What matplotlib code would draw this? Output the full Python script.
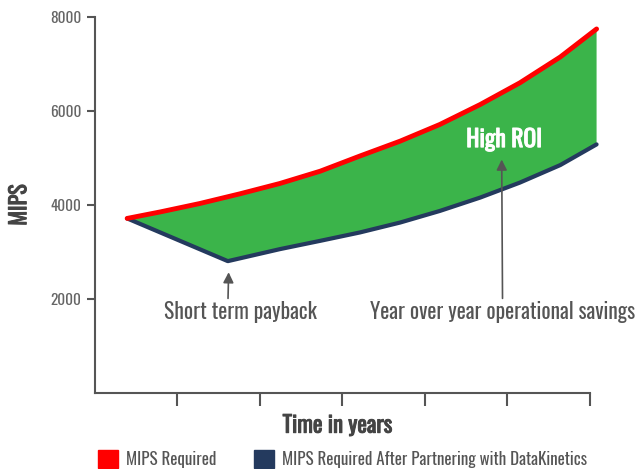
import numpy as np
import matplotlib.pyplot as plt
import matplotlib.patheffects as pe
from matplotlib.patches import Patch

plt.rcParams['font.family'] = ['Oswald', 'Barlow Condensed', 'DejaVu Sans']

# MIPS required
x_req = [0.39, 0.79, 1.27, 1.76, 2.24, 2.73, 3.21, 3.70, 4.18, 4.67, 5.15, 5.64, 6.08]
mips_req = [3715, 3853, 4032, 4240, 4458, 4720, 5042, 5360, 5714, 6139, 6600, 7150, 7746]

# MIPS after partnering with DataKinetics
x_dk = [0.39, 1.61, 2.24, 2.73, 3.21, 3.70, 4.18, 4.67, 5.15, 5.64, 6.08]
mips_dk = [3715, 2806, 3061, 3238, 3416, 3628, 3874, 4159, 4477, 4850, 5290]

y_ticks = [2000, 4000, 6000, 8000]
x_ticks = [1, 2, 3, 4, 5, 6]

red = '#ff0000'
navy = '#243a5e'
green = '#3bb44a'
grey = '#555555'


def fake_bold(color, w=0.7):
    # Oswald comes only in regular here, thicken it a little
    return [pe.withStroke(linewidth=w, foreground=color)]


fig = plt.figure(figsize=(6.35, 4.69), dpi=100)
ax = fig.add_axes([0.1496, 0.162, 0.7795, 0.8017])

# green band between the two curves
band_x = np.concatenate([x_req, x_dk[::-1]])
band_y = np.concatenate([mips_req, mips_dk[::-1]])
ax.fill(band_x, band_y, color=green, lw=0, clip_on=False)
ax.plot(x_dk, mips_dk, color=navy, lw=3, solid_capstyle='round', solid_joinstyle='round', clip_on=False)
ax.plot(x_req, mips_req, color=red, lw=3.5, solid_capstyle='round', solid_joinstyle='round', clip_on=False)

ax.set_xlim(0, 6)
ax.set_ylim(0, 8000)
ax.set_xticks(x_ticks)
ax.set_xticklabels([])
ax.set_yticks(y_ticks)
ax.set_yticklabels([str(v) for v in y_ticks], color='#666666', fontsize=11)
ax.tick_params(axis='y', length=6, width=1.5, color=grey, pad=4)
ax.tick_params(axis='x', length=9, width=1.5, color=grey)
for s in ['top', 'right']:
    ax.spines[s].set_visible(False)
for s in ['left', 'bottom']:
    ax.spines[s].set_color(grey)
    ax.spines[s].set_linewidth(1.5)

ax.set_ylabel('MIPS', fontsize=16, color='#444444', labelpad=14,
              path_effects=fake_bold('#444444'))
ax.set_xlabel('Time in years', fontsize=16.5, color='#444444', labelpad=1,
              path_effects=fake_bold('#444444'))
ax.xaxis.set_label_coords(0.49, -0.055)

ax.annotate('Short term payback', xy=(1.62, 2570), xytext=(1.76, 1720),
            ha='center', va='center', fontsize=15.5, color=grey,
            arrowprops=dict(arrowstyle='-|>', color=grey, lw=1.2,
                            shrinkA=0, shrinkB=0, relpos=(0.42, 1)))
ax.annotate('Year over year operational savings', xy=(4.93, 4968), xytext=(4.94, 1720),
            ha='center', va='center', fontsize=15.5, color=grey, annotation_clip=False,
            arrowprops=dict(arrowstyle='-|>', color=grey, lw=1.2,
                            shrinkA=0, shrinkB=0, relpos=(0.5, 1)))
ax.text(4.96, 5392, 'High ROI', ha='center', va='center', fontsize=17,
        color='white', path_effects=fake_bold('white'))

handles = [Patch(color=red, label='MIPS Required'),
           Patch(color=navy, label='MIPS Required After Partnering with DataKinetics')]
fig.legend(handles=handles, loc='lower center', bbox_to_anchor=(0.539, -0.03), ncol=2,
           frameon=False, fontsize=12.2, handlelength=1.2, handleheight=1.2,
           handletextpad=0.46, columnspacing=2.2, labelcolor=grey)

fig.savefig('out.png', dpi=100)
